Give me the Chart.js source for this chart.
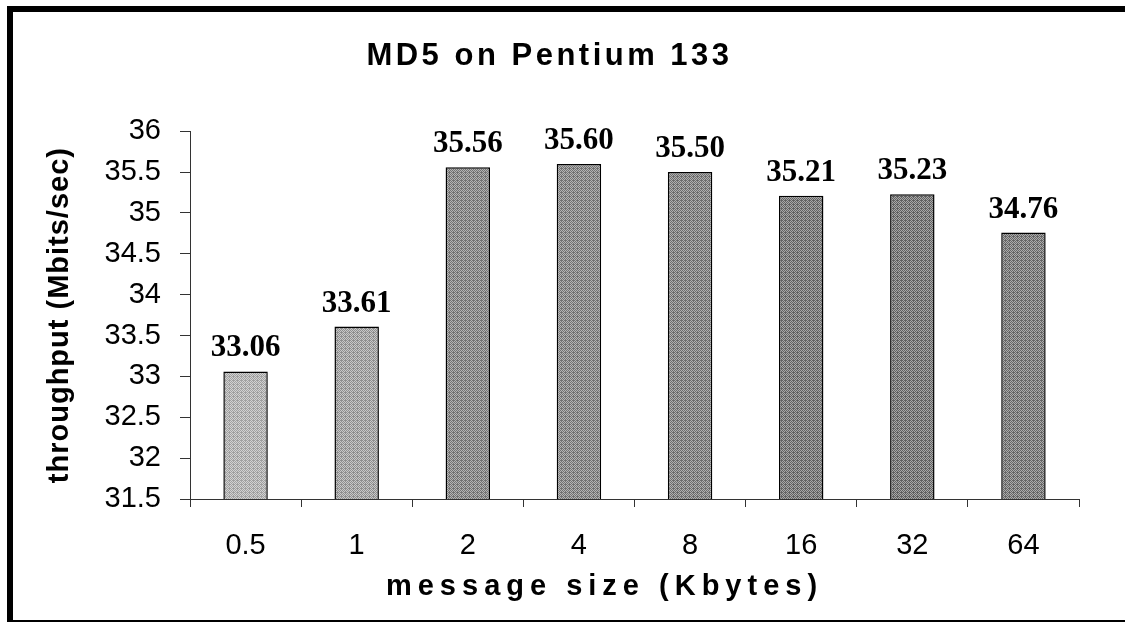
<!DOCTYPE html>
<html>
<head>
<meta charset="utf-8">
<script src="https://cdn.jsdelivr.net/npm/chart.js@4.4.1/dist/chart.umd.min.js"></script>
<style>
  html, body { margin: 0; padding: 0; background: #fff; overflow: hidden; }
  #wrap { position: absolute; left: 0; top: 0; width: 1100px; height: 622px; }
  #frame {
    position: absolute; left: 7px; top: 6px; width: 1140px; height: 608px;
    border-left: 6px solid #000; border-top: 6px solid #000; border-bottom: 3px solid #000;
    pointer-events: none;
  }
</style>
</head>
<body>
<div id="wrap"><canvas id="chart"></canvas></div>
<div id="frame"></div>
<script>
// chart data
const categories = ["0.5", "1", "2", "4", "8", "16", "32", "64"];
const throughput = [33.06, 33.61, 35.56, 35.60, 35.50, 35.21, 35.23, 34.76];
const yMin = 31.5;
const yMax = 36;
const yStep = 0.5;

// halftone-ish fill for each bar (light tone, dark tone)
const barTones = [
  ["#d2d2d2", "#a0a0a0"],
  ["#c8c8c8", "#8e8e8e"],
  ["#b4b4b4", "#727272"],
  ["#b4b4b4", "#727272"],
  ["#b0b0b0", "#6c6c6c"],
  ["#a8a8a8", "#626262"],
  ["#a8a8a8", "#606060"],
  ["#acacac", "#666666"]
];

function makePattern(light, dark) {
  const c = document.createElement("canvas");
  c.width = 4;
  c.height = 4;
  const g = c.getContext("2d");
  g.fillStyle = light;
  g.fillRect(0, 0, 4, 4);
  g.fillStyle = dark;
  [[0, 0], [2, 0], [1, 1], [3, 1], [0, 2], [2, 2], [1, 3], [3, 3], [1, 0]].forEach(p => {
    g.fillRect(p[0], p[1], 1, 1);
  });
  return g.createPattern(c, "repeat");
}

// letter spacing for titles (canvas ctx.letterSpacing)
const spacedTitles = {
  id: "spacedTitles",
  beforeDraw(chart) {
    const gaps = { x: ["6px", -30], y: ["1px", 0] };
    Object.keys(gaps).forEach(id => {
      const s = chart.scales[id];
      if (s && !s._spaced) {
        const orig = s.drawTitle;
        s.drawTitle = function () {
          const c = this.ctx;
          const prev = c.letterSpacing;
          c.save();
          c.translate(gaps[id][1], 0);
          c.letterSpacing = gaps[id][0];
          orig.apply(this, arguments);
          c.restore();
          c.letterSpacing = prev;
        };
        s._spaced = true;
      }
    });
    const t = chart.titleBlock;
    if (t && !t._spaced) {
      const origDraw = t.draw;
      t.draw = function () {
        const prev = chart.ctx.letterSpacing;
        chart.ctx.letterSpacing = "3.5px";
        origDraw.apply(this, arguments);
        chart.ctx.letterSpacing = prev;
      };
      t._spaced = true;
    }
  }
};

// value labels above each bar
const valueLabels = {
  id: "valueLabels",
  afterDatasetsDraw(chart) {
    const ctx = chart.ctx;
    const meta = chart.getDatasetMeta(0);
    ctx.save();
    ctx.font = "bold 31px 'Liberation Serif', 'Times New Roman', serif";
    ctx.fillStyle = "#000";
    ctx.textAlign = "center";
    ctx.textBaseline = "alphabetic";
    meta.data.forEach((bar, i) => {
      ctx.fillText(throughput[i].toFixed(2), bar.x, bar.y - 15);
    });
    ctx.restore();
  }
};

const ctx = document.getElementById("chart").getContext("2d");
const chart = new Chart(ctx, {
  type: "bar",
  data: {
    labels: categories,
    datasets: [{
      label: "throughput",
      data: throughput,
      backgroundColor: barTones.map(t => makePattern(t[0], t[1])),
      borderColor: "#000",
      borderWidth: 1.5,
      barPercentage: 0.4,
      categoryPercentage: 1.0
    }]
  },
  options: {
    responsive: true,
    maintainAspectRatio: false,
    animation: false,
    layout: {
      padding: { left: 20, right: 21, top: 0, bottom: 18 }
    },
    plugins: {
      legend: { display: false },
      tooltip: { enabled: false },
      title: {
        display: true,
        text: "MD5 on Pentium 133",
        color: "#000",
        font: { family: "'Liberation Sans', Arial, sans-serif", size: 31, weight: "bold" },
        padding: { top: 38, bottom: 56 }
      }
    },
    scales: {
      x: {
        grid: {
          display: true,
          offset: true,
          drawOnChartArea: false,
          drawTicks: true,
          tickLength: 8,
          color: "#333"
        },
        border: { color: "#333", width: 1 },
        ticks: {
          color: "#000",
          padding: 22,
          font: { family: "'Liberation Sans', Arial, sans-serif", size: 29 }
        },
        title: {
          display: true,
          text: "message size (Kbytes)",
          color: "#000",
          font: { family: "'Liberation Sans', Arial, sans-serif", size: 29, weight: "bold" },
          padding: { top: 0, bottom: 0 }
        },
        afterFit: s => { s.height = 105; }
      },
      y: {
        min: yMin,
        max: yMax,
        grid: {
          display: true,
          drawOnChartArea: false,
          drawTicks: true,
          tickLength: 10,
          color: "#333"
        },
        border: { color: "#333", width: 1 },
        ticks: {
          stepSize: yStep,
          color: "#000",
          padding: 19,
          font: { family: "'Liberation Sans', Arial, sans-serif", size: 29 },
          callback: v => String(v)
        },
        title: {
          display: true,
          text: "throughput (Mbits/sec)",
          color: "#000",
          font: { family: "'Liberation Sans', Arial, sans-serif", size: 29, weight: "bold" },
          padding: { top: 23, bottom: 0 }
        },
        afterFit: s => { s.width = 170; }
      }
    }
  },
  plugins: [spacedTitles, valueLabels]
});
</script>
</body>
</html>
